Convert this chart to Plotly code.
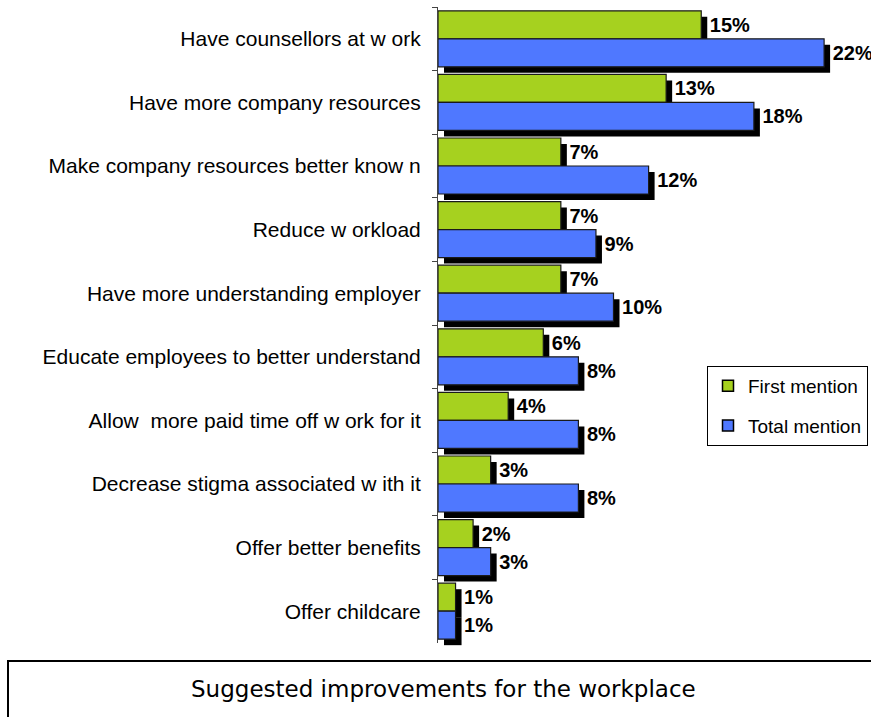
import plotly.graph_objects as go

categories = [
    "Have counsellors at w ork",
    "Have more company resources",
    "Make company resources better know n",
    "Reduce w orkload",
    "Have more understanding employer",
    "Educate employees to better understand",
    "Allow  more paid time off w ork for it",
    "Decrease stigma associated w ith it",
    "Offer better benefits",
    "Offer childcare",
]
first_mention = [15, 13, 7, 7, 7, 6, 4, 3, 2, 1]
total_mention = [22, 18, 12, 9, 10, 8, 8, 8, 3, 1]
series_names = ["First mention", "Total mention"]
title_text = "Suggested improvements for the workplace"

GREEN = "#a6d11f"
BLUE = "#4f78ff"
W, H = 871, 717
ML, MT = 438, 7
PW, PH = 418, 642
MR = W - ML - PW
MB = H - MT - PH
dx = 6 / PW
dy = 6 / PH
XMAX = (PW - 6) / 17.55

fig = go.Figure()
vals = [first_mention, total_mention]
colors = [GREEN, BLUE]

# shadows (drawn first, on subplot x/y shifted right/down)
for name, v in zip(series_names, vals):
    fig.add_trace(go.Bar(
        y=categories, x=v, orientation="h", name=name + " shadow",
        marker=dict(color="black", line=dict(width=0)),
        showlegend=False, hoverinfo="skip",
        xaxis="x", yaxis="y",
    ))

for i, (name, v, c) in enumerate(zip(series_names, vals, colors)):
    fig.add_trace(go.Bar(
        y=categories, x=v, orientation="h", name=name,
        marker=dict(color=c, line=dict(color="#1a1a1a", width=1.2)),
        text=["\u00a0" + f"{x}%" for x in v],
        textposition="outside", cliponaxis=False,
        textfont=dict(family="Liberation Sans, Arial", size=20, color="black", weight="bold"),
        xaxis="x2", yaxis="y2", showlegend=False,
    ))

# legend entries with small square swatches
for name, c in zip(series_names, colors):
    fig.add_trace(go.Scatter(
        x=[None], y=[None], mode="markers", name=name,
        marker=dict(symbol="square", size=11, color=c, line=dict(color="black", width=1.5)),
        xaxis="x2", yaxis="y2", legendgroup=name,
    ))

fig.update_layout(
    width=W, height=H,
    margin=dict(l=ML, r=MR, t=MT, b=MB, autoexpand=False),
    barmode="group", bargap=0.12, bargroupgap=0,
    paper_bgcolor="white", plot_bgcolor="rgba(0,0,0,0)",
    font=dict(family="Liberation Sans, Arial", color="black"),
    xaxis=dict(domain=[dx, 1], range=[0, XMAX], visible=False, fixedrange=True),
    yaxis=dict(domain=[0, 1 - dy], autorange="reversed", visible=False,
               categoryorder="array", categoryarray=categories),
    xaxis2=dict(domain=[0, 1 - dx], range=[0, XMAX], anchor="y2",
                showgrid=False, zeroline=False, showticklabels=False, showline=False),
    yaxis2=dict(domain=[dy, 1], anchor="x2", autorange="reversed",
                categoryorder="array", categoryarray=categories,
                showline=True, linecolor="#444", linewidth=1,
                ticks="outside", tickson="boundaries", ticklen=5, tickcolor="#444",
                tickfont=dict(family="Liberation Sans, Arial", size=21, color="black"),
                ticklabelstandoff=12, automargin=False, showgrid=False),
    legend=dict(
        x=(707 - ML) / PW, y=1 - (366 - MT) / PH, xanchor="left", yanchor="top",
        bordercolor="black", borderwidth=1, bgcolor="white",
        font=dict(family="Liberation Sans, Arial", size=19, color="black"),
        tracegroupgap=12, itemwidth=30,
    ),
    showlegend=True,
)

fig.add_shape(type="rect", xref="paper", yref="paper",
              x0=(8 - ML) / PW, x1=(W + 20 - ML) / PW,
              y0=1 - (H + 20 - MT) / PH, y1=1 - (661 - MT) / PH,
              line=dict(color="black", width=2), fillcolor="rgba(0,0,0,0)")
fig.add_annotation(text=title_text, xref="paper", yref="paper",
                   x=(443 - ML) / PW, y=1 - (689 - MT) / PH,
                   xanchor="center", yanchor="middle", showarrow=False,
                   font=dict(family="DejaVu Sans", size=23, color="black"))

fig.write_html("out.html")
